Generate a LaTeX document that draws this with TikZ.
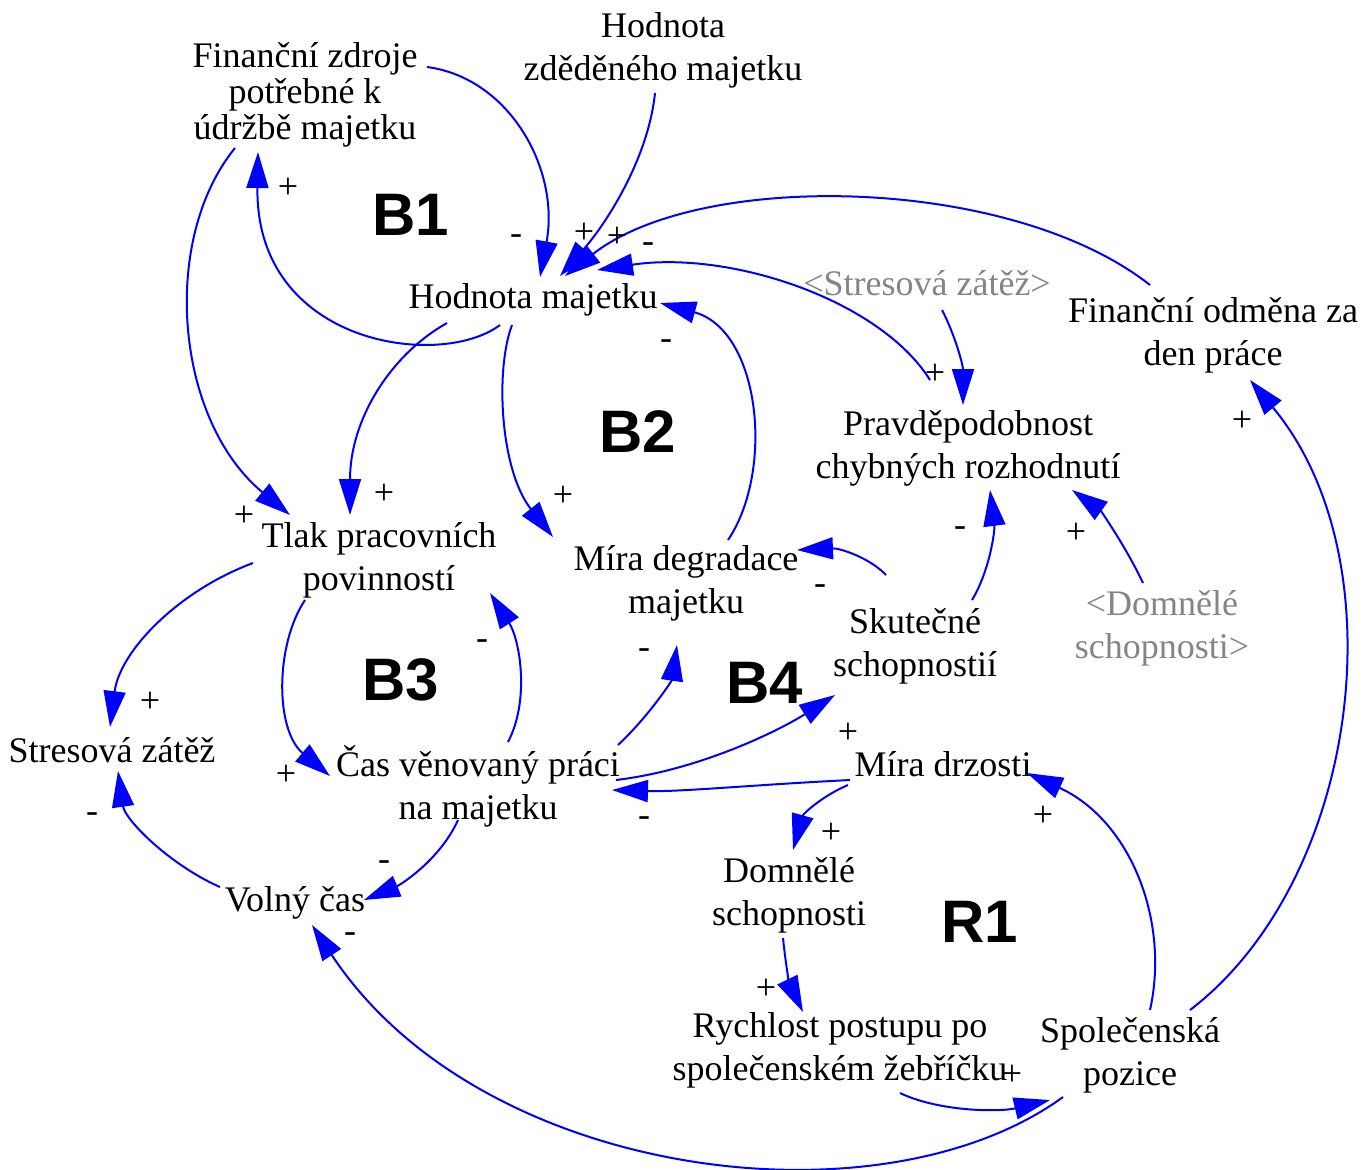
\documentclass[tikz,border=0pt]{standalone}
\usepackage{fontspec}
\setmainfont{Liberation Serif}
\newfontfamily\loopfamily{Liberation Sans}
\usetikzlibrary{arrows.meta,calc}
\newcommand\varfont{\fontsize{18}{21.5}\selectfont}
\newcommand\loopfont{\loopfamily\bfseries\fontsize{30}{30}\selectfont}
\tikzset{
  var/.style={align=center, inner sep=0pt, font=\varfont},
  ghost/.style={var, text=black!48},
  sgn/.style={inner sep=0pt, font=\varfont},
  loopl/.style={inner sep=0pt, font=\loopfont},
  link/.style={draw=blue, line width=1pt, -{Triangle[length=18pt,width=11pt]}},
}
\begin{document}
\begin{tikzpicture}[x=0.5pt,y=-0.5pt]
\useasboundingbox (0,0) rectangle (1363,1169);
% variables
\node[var, font=\fontsize{18}{18}\selectfont] (fz) at (305,95) {Finanční zdroje\\potřebné k\\údržbě majetku};
\node[var] (hz) at (663,50) {Hodnota\\zděděného majetku};
\node[var] (hm) at (533,300) {Hodnota majetku};
\node[var] (fo) at (1213,335) {Finanční odměna za\\den práce};
\node[ghost] (sg) at (927,283) {<Stresová zátěž>};
\node[var] (pr) at (968,448) {Pravděpodobnost\\chybných rozhodnutí};
\node[var] (tl) at (379,560) {Tlak pracovních\\povinností};
\node[var] (md) at (686,583) {Míra degradace\\majetku};
\node[var] (sk) at (915,646) {Skutečné\\schopnostií};
\node[ghost] (dg) at (1162,628) {<Domnělé\\schopnosti>};
\node[var] (sz) at (112,750) {Stresová zátěž};
\node[var] (cv) at (478,786) {Čas věnovaný práci\\na majetku};
\node[var] (mz) at (943,764) {Míra drzosti};
\node[var] (vc) at (295,903) {Volný čas};
\node[var] (ds) at (789,895) {Domnělé\\schopnosti};
\node[var] (ry) at (840,1050) {Rychlost postupu po\\společenském žebříčku};
\node[var] (sp) at (1130,1055) {Společenská\\pozice};
% loop labels
\node[loopl] (b1) at (411,215) {B1};
\node[loopl] (b2) at (638,432) {B2};
\node[loopl] (b3) at (401,680) {B3};
\node[loopl] (b4) at (765,683) {B4};
\node[loopl] (r1) at (980,922) {R1};
% links
\draw[link] ($(fz)+(122,-28)$) .. controls (510,78) and (560,170) .. ($(hm)+(7,-23)$);
\draw[link] ($(hz)+(-8,43)$) .. controls (648,160) and (605,225) .. ($(hm)+(27,-24)$);
\draw[link] ($(fo)+(-63,-50)$) .. controls (1010,175) and (700,170) .. ($(hm)+(32,-24)$);
\draw[link] ($(pr)+(-38,-68)$) .. controls (880,300) and (730,250) .. ($(hm)+(64,-30)$);
\draw[link] ($(hm)+(-33,25)$) .. controls (440,370) and (255,345) .. ($(fz)+(-47,57)$);
\draw[link] ($(fz)+(-70,53)$) .. controls (160,240) and (175,420) .. ($(tl)+(-89,-45)$);
\draw[link] ($(hm)+(-86,23)$) .. controls (390,355) and (350,420) .. ($(tl)+(-29,-45)$);
\draw[link] ($(hm)+(-21,25)$) .. controls (495,370) and (500,470) .. ($(md)+(-133,-46)$);
\draw[link] ($(md)+(42,-43)$) .. controls (775,470) and (760,330) .. ($(hm)+(127,3)$);
\draw[link] ($(sk)+(-29,-71)$) .. controls (870,558) and (840,548) .. ($(md)+(111,-33)$);
\draw[link] ($(sk)+(57,-46)$) .. controls (990,570) and (995,530) .. ($(pr)+(22,42)$);
\draw[link] ($(sg)+(15,27)$) .. controls (955,335) and (963,365) .. ($(pr)+(-5,-43)$);
\draw[link] ($(dg)+(-19,-45)$) .. controls (1125,545) and (1100,510) .. ($(pr)+(104,42)$);
\draw[link] ($(sp)+(60,-45)$) .. controls (1360,880) and (1400,560) .. ($(fo)+(37,45)$);
\draw[link] ($(tl)+(-126,3)$) .. controls (180,590) and (120,650) .. ($(sz)+(-2,-23)$);
\draw[link] ($(tl)+(-74,40)$) .. controls (275,645) and (275,730) .. ($(cv)+(-148,-10)$);
\draw[link] ($(cv)+(30,-44)$) .. controls (530,700) and (520,640) .. ($(tl)+(111,33)$);
\draw[link] ($(cv)+(140,-41)$) .. controls (650,715) and (672,680) .. ($(md)+(-9,62)$);
\draw[link] ($(cv)+(-20,34)$) .. controls (440,860) and (400,885) .. ($(vc)+(69,-3)$);
\draw[link] ($(vc)+(-75,-16)$) .. controls (170,865) and (125,820) .. ($(sz)+(6,21)$);
\draw[link] ($(cv)+(138,-6)$) .. controls (700,770) and (780,730) .. ($(sk)+(-80,49)$);
\draw[link] ($(mz)+(-93,16)$) .. controls (750,785) and (680,792) .. ($(cv)+(134,4)$);
\draw[link] ($(mz)+(-95,21)$) .. controls (822,796) and (803,814) .. ($(ds)+(4,-45)$);
\draw[link] ($(ds)+(-6,43)$) .. controls (786,968) and (790,985) .. ($(ry)+(-37,-38)$);
\draw[link] ($(ry)+(60,43)$) .. controls (940,1112) and (1000,1112) .. ($(sp)+(-80,45)$);
\draw[link] ($(sp)+(20,-45)$) .. controls (1170,920) and (1130,820) .. ($(mz)+(84,9)$);
\draw[link] ($(sp)+(-67,42)$) .. controls (880,1230) and (480,1180) .. ($(vc)+(17,22)$);
% signs
\node[sgn] (s1) at (516,240) {-};
\node[sgn] (s2) at (584,233) {+};
\node[sgn] (s3) at (617,237) {+};
\node[sgn] (s4) at (648,248) {-};
\node[sgn] (s5) at (288,188) {+};
\node[sgn] (s6) at (244,516) {+};
\node[sgn] (s7) at (384,494) {+};
\node[sgn] (s8) at (563,496) {+};
\node[sgn] (s9) at (666,345) {-};
\node[sgn] (s10) at (820,590) {-};
\node[sgn] (s11) at (960,532) {-};
\node[sgn] (s12) at (935,374) {+};
\node[sgn] (s13) at (1076,533) {+};
\node[sgn] (s14) at (1242,421) {+};
\node[sgn] (s15) at (150,702) {+};
\node[sgn] (s16) at (286,775) {+};
\node[sgn] (s17) at (482,645) {-};
\node[sgn] (s18) at (644,654) {-};
\node[sgn] (s19) at (384,866) {-};
\node[sgn] (s20) at (92,818) {-};
\node[sgn] (s21) at (848,733) {+};
\node[sgn] (s22) at (644,822) {-};
\node[sgn] (s23) at (831,833) {+};
\node[sgn] (s24) at (766,989) {+};
\node[sgn] (s25) at (1012,1075) {+};
\node[sgn] (s26) at (1043,816) {+};
\node[sgn] (s27) at (350,938) {-};
\end{tikzpicture}
\end{document}
